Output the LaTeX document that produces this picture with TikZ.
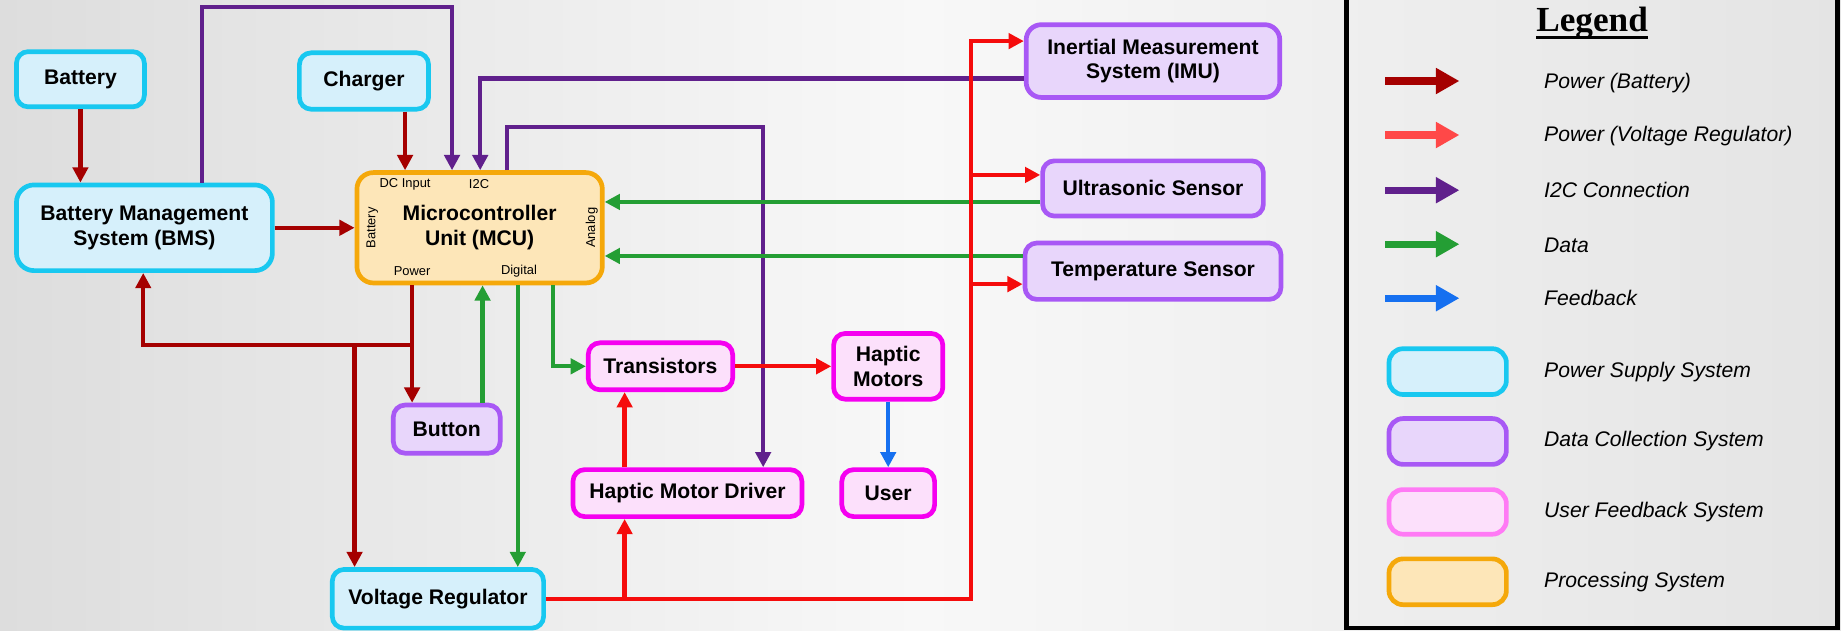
\documentclass[tikz,border=0pt]{standalone}
\usepackage{fontspec}
\setmainfont{Liberation Sans}
\newfontfamily\legendserif{Liberation Serif}
\usetikzlibrary{arrows.meta}
\definecolor{pbat}{RGB}{165,0,0}
\definecolor{pvr}{RGB}{245,12,12}
\definecolor{pvrleg}{RGB}{255,72,72}
\definecolor{i2cc}{RGB}{96,32,140}
\definecolor{datac}{RGB}{36,158,52}
\definecolor{fbc}{RGB}{22,112,240}
\definecolor{psB}{RGB}{24,200,240}
\definecolor{psF}{RGB}{214,240,251}
\definecolor{dcB}{RGB}{168,88,245}
\definecolor{dcF}{RGB}{232,214,251}
\definecolor{ufB}{RGB}{245,0,240}
\definecolor{ufF}{RGB}{252,224,251}
\definecolor{ufLegB}{RGB}{255,122,245}
\definecolor{prB}{RGB}{245,168,10}
\definecolor{prF}{RGB}{253,230,184}
\definecolor{bgL}{RGB}{221,221,221}
\definecolor{bgM}{RGB}{248,248,248}
\definecolor{bgR}{RGB}{228,228,228}
\begin{document}
\begin{tikzpicture}[x=1pt,y=-1pt,
  box/.style={rounded corners=10pt, line width=4pt, align=center, inner sep=0pt,
    font=\fontsize{18}{21}\selectfont\bfseries},
  ps/.style={box, draw=psB, fill=psF},
  dc/.style={box, draw=dcB, fill=dcF},
  uf/.style={box, draw=ufB, fill=ufF},
  pr/.style={box, draw=prB, fill=prF},
  port/.style={inner sep=0pt, font=\fontsize{11}{13}\selectfont},
  wire/.style={line width=3.7pt, -{Triangle[length=13pt,width=13pt]}},
  pb/.style={wire, draw=pbat},
  pv/.style={wire, draw=pvr},
  i2c/.style={wire, draw=i2cc},
  dat/.style={wire, draw=datac},
  fb/.style={wire, draw=fbc},
  legarrow/.style={line width=6pt, -{Triangle[length=20pt,width=21pt]}},
  leg/.style={anchor=west, inner sep=0pt, font=\fontsize{18}{21}\selectfont\itshape},
  legbox/.style={minimum width=100pt, minimum height=39pt, rounded corners=12pt}
]
\useasboundingbox (0,0) rectangle (1568,537);
\fill[left color=bgL, right color=bgR, middle color=bgM] (0,0) rectangle (1568,537);

% nodes
\node[ps, minimum width=109pt, minimum height=47pt] (bat) at (68.5,67.5) {Battery};
\node[ps, minimum width=110pt, minimum height=48pt] (chg) at (310,69) {Charger};
\node[ps, rounded corners=15pt, minimum width=218pt, minimum height=73pt] (bms) at (123,194) {Battery Management\\System (BMS)};
\node[pr, rounded corners=14pt, minimum width=209pt, minimum height=94pt] (mcu) at (408.5,194) {Microcontroller\\Unit (MCU)};
\node[dc, minimum width=91pt, minimum height=41pt] (btn) at (380.5,365.5) {Button};
\node[ps, minimum width=180pt, minimum height=50pt] (vr) at (373,510) {Voltage Regulator};
\node[uf, minimum width=123pt, minimum height=40pt] (tr) at (562.5,312) {Transistors};
\node[uf, minimum width=93pt, minimum height=56pt] (hm) at (756.5,312) {Haptic\\Motors};
\node[uf, minimum width=195pt, minimum height=40pt] (hmd) at (585.5,420) {Haptic Motor Driver};
\node[uf, minimum width=79pt, minimum height=40pt] (usr) at (756.5,420) {User};
\node[dc, rounded corners=13pt, minimum width=216pt, minimum height=62pt] (imu) at (982,52) {Inertial Measurement\\System (IMU)};
\node[dc, minimum width=188pt, minimum height=47pt] (us) at (982,160.5) {Ultrasonic Sensor};
\node[dc, minimum width=218pt, minimum height=48pt] (tmp) at (982,231) {Temperature Sensor};

% MCU port labels
\node[port] (pDC) at (345,157) {DC Input};
\node[port] (pI2C) at (408,157) {I2C};
\node[port] (pPow) at (351,231) {Power};
\node[port] (pDig) at (442,231) {Digital};
\node[port, rotate=90] (pBat) at (317,194) {Battery};
\node[port, rotate=90] (pAna) at (504,194) {Analog};

% helper coordinates
\coordinate (cDC) at (345,0);
\coordinate (cBP) at (172,0);
\coordinate (pTop) at (385,6);
\coordinate (iI) at (409,67);
\coordinate (iO0) at (432,108);
\coordinate (iO) at (650,108);
\coordinate (dU) at (0,172);
\coordinate (dT) at (0,218);
\coordinate (bus) at (827,35);
\coordinate (bU) at (827,149);
\coordinate (bT) at (827,242);
\coordinate (bH) at (532,510);
\coordinate (gT) at (471,0);
\coordinate (gV) at (441,0);
\coordinate (gB) at (411,0);
\coordinate (rJ) at (351,294);
\coordinate (rB) at (122,294);
\coordinate (rV) at (302,294);

% power (battery)
\draw[pb] (bat.south) -- (bat.south |- bms.north);
\draw[pb] (chg.south -| cDC) -- (mcu.north -| cDC);
\draw[pb] (bms.east) -- (mcu.west);
\draw[pb] (mcu.south -| rJ) -- (btn.north -| rJ);
\draw[pb] (rJ) -| (bms.south -| rB);
\draw[pb] (rV) -- (vr.north -| rV);

% I2C
\draw[i2c] (bms.north -| cBP) |- (pTop) -- (mcu.north -| pTop);
\draw[i2c] (imu.west |- iI) -| (mcu.north -| iI);
\draw[i2c] (mcu.north -| iO0) |- (iO) -- (hmd.north -| iO);

% data
\draw[dat] (us.west |- dU) -- (mcu.east |- dU);
\draw[dat] (tmp.west |- dT) -- (mcu.east |- dT);
\draw[dat] (mcu.south -| gT) |- (tr.west);
\draw[dat] (mcu.south -| gV) -- (vr.north -| gV);
\draw[dat] (btn.north -| gB) -- (mcu.south -| gB);

% power (voltage regulator)
\draw[pv] (vr.east) -| (bus) -- (imu.west |- bus);
\draw[pv] (bU) -- (us.west |- bU);
\draw[pv] (bT) -- (tmp.west |- bT);
\draw[pv] (bH) -- (hmd.south -| bH);
\draw[pv] (hmd.north -| bH) -- (tr.south -| bH);
\draw[pv] (tr.east) -- (hm.west);

% feedback
\draw[fb] (hm.south) -- (usr.north);

% legend
\draw[line width=4pt] (1147,-10) rectangle (1565,535);
\node[anchor=base, inner sep=0pt, font=\legendserif\bfseries\fontsize{30}{34}\selectfont] (ttl) at (1356,27) {Legend};
\draw[line width=2.5pt] ([yshift=-5pt]ttl.base west) -- ([yshift=-5pt]ttl.base east);

\draw[legarrow, draw=pbat] (1180,69) -- (1243,69);
\draw[legarrow, draw=pvrleg] (1180,115) -- (1243,115);
\draw[legarrow, draw=i2cc] (1180,162) -- (1243,162);
\draw[legarrow, draw=datac] (1180,208) -- (1243,208);
\draw[legarrow, draw=fbc] (1180,254) -- (1243,254);
\node[leg] (l1) at (1315,71) {Power (Battery)};
\node[leg] (l2) at (1315,116) {Power (Voltage Regulator)};
\node[leg] (l3) at (1315,162) {I2C Connection};
\node[leg] (l4) at (1315,209) {Data};
\node[leg] (l5) at (1315,254) {Feedback};

\node[ps, legbox] (k1) at (1233,316.5) {};
\node[dc, legbox] (k2) at (1233,376) {};
\node[box, draw=ufLegB, fill=ufF, legbox, minimum height=38pt] (k3) at (1233,436) {};
\node[pr, legbox] (k4) at (1233,495.5) {};
\node[leg] (m1) at (1315,317) {Power Supply System};
\node[leg] (m2) at (1315,376) {Data Collection System};
\node[leg] (m3) at (1315,436) {User Feedback System};
\node[leg] (m4) at (1315,496) {Processing System};
\end{tikzpicture}
\end{document}
